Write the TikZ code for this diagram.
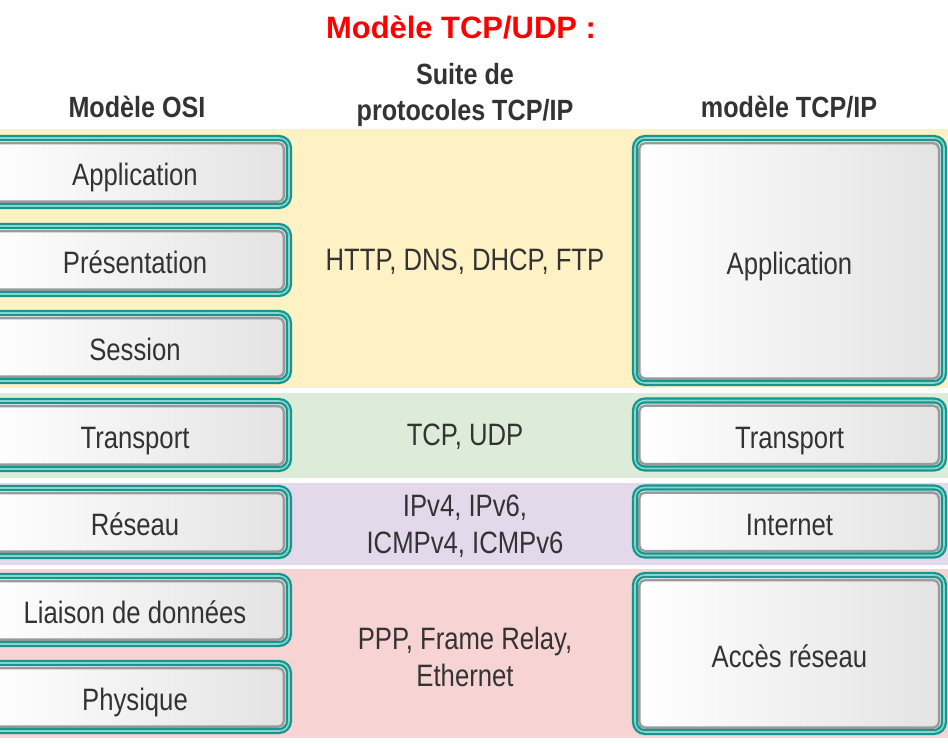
\documentclass[tikz,border=0pt]{standalone}
\usepackage{fontspec}
\setmainfont{Liberation Sans}
\newfontfamily\layerfont[FakeStretch=0.83]{Liberation Sans}
\newfontfamily\headfont[FakeStretch=0.86]{Liberation Sans}
\usetikzlibrary{positioning, calc}

\definecolor{bandyellow}{HTML}{FEF1C4}
\definecolor{bandgreen}{HTML}{DDEBD9}
\definecolor{bandpurple}{HTML}{E3D9EB}
\definecolor{bandpink}{HTML}{F7D3D4}
\definecolor{tealdark}{HTML}{16968F}
\definecolor{teallight}{HTML}{88D5CE}
\definecolor{edgegray}{HTML}{9A9A9A}
\definecolor{textgray}{HTML}{333333}
\definecolor{titlered}{HTML}{FF0000}

\begin{document}
\begin{tikzpicture}[
    x=0.25mm, y=-0.25mm,
    layer/.style={rectangle, rounded corners=7pt, inner sep=0pt,
        draw=tealdark, double=teallight, line width=1.6pt, double distance=1.1pt,
        left color=white, right color=black!11,
        text=textgray, font=\layerfont\fontsize{22}{27}\selectfont,
        text height=19.4pt, text depth=0pt,
        path picture={\draw[edgegray, line width=1.7pt, rounded corners=4pt]
            ([shift={(3.1pt,-3.6pt)}]path picture bounding box.north west) rectangle
            ([shift={(-3.6pt,3.1pt)}]path picture bounding box.south east);}},
    osilayer/.style={layer, minimum width=77mm, minimum height=17mm},
    tcplayer/.style={layer, minimum width=77.25mm, minimum height=17mm},
    proto/.style={align=center, text=textgray, font=\layerfont\fontsize{22}{26.3}\selectfont},
    header/.style={align=center, text=textgray, font=\headfont\bfseries\fontsize{20.8}{25.6}\selectfont}
]
    \path[use as bounding box, clip] (0,0) rectangle (948,744);

    % Bands ===========================
    \fill[bandyellow] (0,129) rectangle (948,388);
    \fill[bandgreen] (0,393) rectangle (948,478);
    \fill[bandpurple] (0,483) rectangle (948,565);
    \fill[bandpink] (0,569) rectangle (948,738);

    % Headers ===========================
    \node[font=\bfseries\fontsize{22}{26}\selectfont, text=titlered, anchor=base] (title) at (461,39) {Modèle TCP/UDP :};
    \node[header, anchor=base] (hosi) at (137,118) {Modèle OSI};
    \node[header] (hsuite) at (465,95) {Suite de\\protocoles TCP/IP};
    \node[header, anchor=base] (htcp) at (789,118) {modèle TCP/IP};

    % OSI Layers ===========================
    \node[osilayer] (oapp) at (135,172) {Application};
    \node[osilayer] (opres) at (135,260) {Présentation};
    \node[osilayer] (osess) at (135,347) {Session};
    \node[osilayer] (otrans) at (135,435) {Transport};
    \node[osilayer] (oreseau) at (135,522) {Réseau};
    \node[osilayer] (oliaison) at (135,610) {Liaison de données};
    \node[osilayer] (ophys) at (135,697) {Physique};

    % Protocols ===========================
    \node[proto] (papp) at (465,262) {HTTP, DNS, DHCP, FTP};
    \node[proto] (ptrans) at (465,437) {TCP, UDP};
    \node[proto] (preseau) at (465,526) {IPv4, IPv6,\\ICMPv4, ICMPv6};
    \node[proto] (pacces) at (465,657) {PPP, Frame Relay,\\Ethernet};

    % TCP/IP Layers ===========================
    \node[tcplayer, minimum height=61.25mm] (tapp) at (789.5,260.5) {Application};
    \node[tcplayer] (ttrans) at (789.5,434.5) {Transport};
    \node[tcplayer] (tinternet) at (789.5,521.5) {Internet};
    \node[tcplayer, minimum height=39.25mm] (tacces) at (789.5,653.5) {Accès réseau};

\end{tikzpicture}
\end{document}
